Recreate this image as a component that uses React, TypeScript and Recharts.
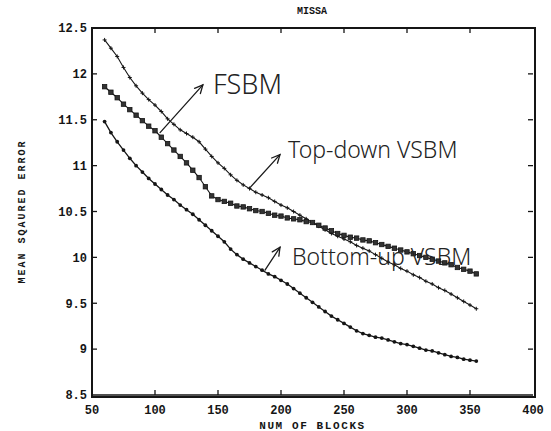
import React from "react";
import { LineChart, Line, XAxis, YAxis, ReferenceLine, ReferenceDot } from "recharts";

// blocks per frame (x) and mean squared error for the three matchers
const blocks = [
  60, 65, 70, 75, 80, 85, 90, 95, 100, 105, 110, 115, 120, 125, 130, 135, 140, 145, 150, 155,
  160, 165, 170, 175, 180, 185, 190, 195, 200, 205, 210, 215, 220, 225, 230, 235, 240, 245, 250, 255,
  260, 265, 270, 275, 280, 285, 290, 295, 300, 305, 310, 315, 320, 325, 330, 335, 340, 345, 350, 355,
];

const fsbm = [
  12.37, 12.28, 12.19, 12.07, 11.96, 11.87, 11.79, 11.72, 11.66, 11.59, 11.51, 11.45, 11.39, 11.35, 11.31, 11.26, 11.18, 11.1, 11.03, 10.97,
  10.9, 10.84, 10.79, 10.75, 10.71, 10.68, 10.65, 10.61, 10.57, 10.54, 10.5, 10.46, 10.42, 10.38, 10.34, 10.3, 10.26, 10.23, 10.2, 10.17,
  10.13, 10.1, 10.07, 10.03, 9.99, 9.95, 9.92, 9.88, 9.85, 9.81, 9.78, 9.74, 9.71, 9.67, 9.64, 9.6, 9.56, 9.52, 9.48, 9.44,
];

const topDown = [
  11.86, 11.8, 11.74, 11.67, 11.61, 11.55, 11.49, 11.43, 11.38, 11.31, 11.24, 11.17, 11.1, 11.03, 10.95, 10.87, 10.77, 10.67, 10.63, 10.61,
  10.59, 10.56, 10.55, 10.53, 10.51, 10.5, 10.48, 10.46, 10.45, 10.43, 10.42, 10.41, 10.39, 10.38, 10.35, 10.32, 10.29, 10.26, 10.24, 10.22,
  10.21, 10.19, 10.18, 10.16, 10.14, 10.12, 10.1, 10.08, 10.06, 10.04, 10.02, 10.0, 9.98, 9.96, 9.94, 9.92, 9.89, 9.87, 9.85, 9.82,
];

const bottomUp = [
  11.48, 11.36, 11.26, 11.17, 11.08, 11.0, 10.93, 10.86, 10.8, 10.74, 10.68, 10.63, 10.57, 10.52, 10.47, 10.41, 10.35, 10.29, 10.23, 10.17,
  10.09, 10.03, 9.98, 9.94, 9.9, 9.86, 9.82, 9.79, 9.75, 9.71, 9.66, 9.61, 9.56, 9.51, 9.46, 9.41, 9.36, 9.32, 9.28, 9.24,
  9.2, 9.17, 9.15, 9.13, 9.12, 9.1, 9.08, 9.06, 9.05, 9.03, 9.01, 8.99, 8.98, 8.96, 8.94, 8.92, 8.91, 8.89, 8.88, 8.87,
];

const xTicks = [50, 100, 150, 200, 250, 300, 350, 400];
const yTicks = [8.5, 9, 9.5, 10, 10.5, 11, 11.5, 12, 12.5];

// hand-written notes: arrow from (x1,y1) to (x2,y2), text starting at (tx,ty)
const notes = [
  { text: "FSBM", x1: 104, y1: 11.36, x2: 138, y2: 11.88, tx: 146, ty: 11.78, size: 27 },
  { text: "Top-down VSBM", x1: 175.4, y1: 10.76, x2: 199.2, y2: 11.12, tx: 205.6, ty: 11.08, size: 23 },
  { text: "Bottom-up VSBM", x1: 187.3, y1: 9.86, x2: 199.2, y2: 10.11, tx: 208.7, ty: 9.92, size: 23 },
];

const rows = blocks.map((b, i) => ({ b, fsbm: fsbm[i], td: topDown[i], bu: bottomUp[i] }));

const W = 551;
const H = 431;
const M = { top: 28, right: 18, bottom: 0, left: 8 };
const yAxisW = 84;
const xAxisH = 36;
// plot box, derived from the chart margins and axis sizes
const box = { l: M.left + yAxisW, t: M.top, r: W - M.right, b: H - M.bottom - xAxisH };

const ink = "#151515";
const tickFont = { fill: ink, fontSize: 12, fontFamily: "Liberation Mono", fontWeight: 700 };
const fmt = (v: number) => (Number.isInteger(v) ? String(v) : v.toFixed(1));

function Cross(props: any) {
  const { cx, cy } = props;
  if (cx == null || cy == null) return null;
  return (
    <g stroke={ink} strokeWidth={1}>
      <line x1={cx - 2} y1={cy} x2={cx + 2} y2={cy} />
      <line x1={cx} y1={cy - 2} x2={cx} y2={cy + 2} />
    </g>
  );
}

function Square(props: any) {
  const { cx, cy } = props;
  if (cx == null || cy == null) return null;
  return <rect x={cx - 2.2} y={cy - 2.2} width={4.4} height={4.4} fill="#333" stroke={ink} strokeWidth={0.8} />;
}

function Dot(props: any) {
  const { cx, cy } = props;
  if (cx == null || cy == null) return null;
  return <circle cx={cx} cy={cy} r={1.9} fill={ink} />;
}

function Arrow(props: any) {
  const { x1, y1, x2, y2 } = props;
  const a = Math.atan2(y2 - y1, x2 - x1);
  const h = 9;
  const p1 = [x2 - h * Math.cos(a - 0.45), y2 - h * Math.sin(a - 0.45)];
  const p2 = [x2 - h * Math.cos(a + 0.45), y2 - h * Math.sin(a + 0.45)];
  return (
    <g stroke="#1b1b1b" strokeWidth={1.3} fill="none" strokeLinecap="round">
      <line x1={x1} y1={y1} x2={x2} y2={y2} />
      <polyline points={`${p1[0]},${p1[1]} ${x2},${y2} ${p2[0]},${p2[1]}`} />
    </g>
  );
}

function NoteText(text: string, size: number) {
  return (props: any) => (
    <text x={props.cx} y={props.cy} fill="#222" fontSize={size} fontFamily="Noto Sans" fontWeight={300}>
      {text}
    </text>
  );
}

// box frame with small inward ticks on all four sides, laid over the chart
function Frame() {
  const x0 = xTicks[0];
  const x1 = xTicks[xTicks.length - 1];
  const y0 = yTicks[0];
  const y1 = yTicks[yTicks.length - 1];
  const px = (v: number) => box.l + ((v - x0) / (x1 - x0)) * (box.r - box.l);
  const py = (v: number) => box.b - ((v - y0) / (y1 - y0)) * (box.b - box.t);
  const k = 5;
  return (
    <>
      <div
        style={{
          position: "absolute",
          left: box.l - 1,
          top: box.t - 1,
          width: box.r - box.l,
          height: box.b - box.t,
          border: `2px solid ${ink}`,
          boxSizing: "content-box",
          zIndex: 5,
          pointerEvents: "none",
        }}
      />
      <svg
        width={W}
        height={H}
        style={{ position: "absolute", left: 0, top: 0, zIndex: 6, pointerEvents: "none" }}
      >
        <g stroke={ink} strokeWidth={1.3}>
          {xTicks.slice(1, -1).map((t) => (
            <g key={"x" + t}>
              <line x1={px(t)} y1={box.t} x2={px(t)} y2={box.t + k} />
              <line x1={px(t)} y1={box.b} x2={px(t)} y2={box.b - k} />
            </g>
          ))}
          {yTicks.slice(1, -1).map((t) => (
            <g key={"y" + t}>
              <line x1={box.l} y1={py(t)} x2={box.l + k} y2={py(t)} />
              <line x1={box.r} y1={py(t)} x2={box.r - k} y2={py(t)} />
            </g>
          ))}
        </g>
      </svg>
    </>
  );
}

export default function App() {
  return (
    <div style={{ position: "fixed", left: 0, top: 0, width: W, height: H, background: "#fff" }}>
      <div
        style={{
          position: "absolute",
          left: 282,
          top: 6,
          width: 60,
          textAlign: "center",
          fontFamily: "Liberation Mono",
          fontWeight: 700,
          fontSize: 10,
          color: ink,
        }}
      >
        MISSA
      </div>
      <LineChart width={W} height={H} data={rows} margin={M}>
        <XAxis
          dataKey="b"
          type="number"
          domain={[50, 400]}
          ticks={xTicks}
          interval={0}
          height={xAxisH}
          stroke={ink}
          strokeWidth={1.6}
          tickLine={{ stroke: "none" }}
          tickSize={9}
          tickMargin={1}
          tick={tickFont}
          label={{
            value: "NUM OF BLOCKS",
            position: "insideBottom",
            offset: 2,
            fill: ink,
            fontSize: 11,
            fontFamily: "Liberation Mono",
            fontWeight: 700,
            letterSpacing: 1.6,
          }}
        />
        <YAxis
          type="number"
          domain={[8.5, 12.5]}
          ticks={yTicks}
          interval={0}
          width={yAxisW}
          stroke={ink}
          strokeWidth={1.6}
          tickLine={{ stroke: "none" }}
          tickSize={5}
          tickMargin={0}
          tickFormatter={fmt}
          tick={tickFont}
          label={{
            value: "MEAN SQAURED ERROR",
            angle: -90,
            position: "insideLeft",
            offset: 13,
            style: { textAnchor: "middle" },
            fill: ink,
            fontSize: 10,
            fontFamily: "Liberation Mono",
            fontWeight: 700,
            letterSpacing: 2,
          }}
        />
        <Line dataKey="fsbm" stroke={ink} strokeWidth={1.1} dot={<Cross />} isAnimationActive={false} />
        <Line dataKey="td" stroke={ink} strokeWidth={1.1} dot={<Square />} isAnimationActive={false} />
        <Line dataKey="bu" stroke={ink} strokeWidth={1.3} dot={<Dot />} isAnimationActive={false} />
        {notes.map((n) => (
          <ReferenceLine
            key={n.text + "-arrow"}
            segment={[
              { x: n.x1, y: n.y1 },
              { x: n.x2, y: n.y2 },
            ]}
            shape={<Arrow />}
            ifOverflow="visible"
          />
        ))}
        {notes.map((n) => (
          <ReferenceDot
            key={n.text}
            x={n.tx}
            y={n.ty}
            r={0}
            ifOverflow="visible"
            shape={NoteText(n.text, n.size)}
          />
        ))}
      </LineChart>
      <Frame />
    </div>
  );
}
